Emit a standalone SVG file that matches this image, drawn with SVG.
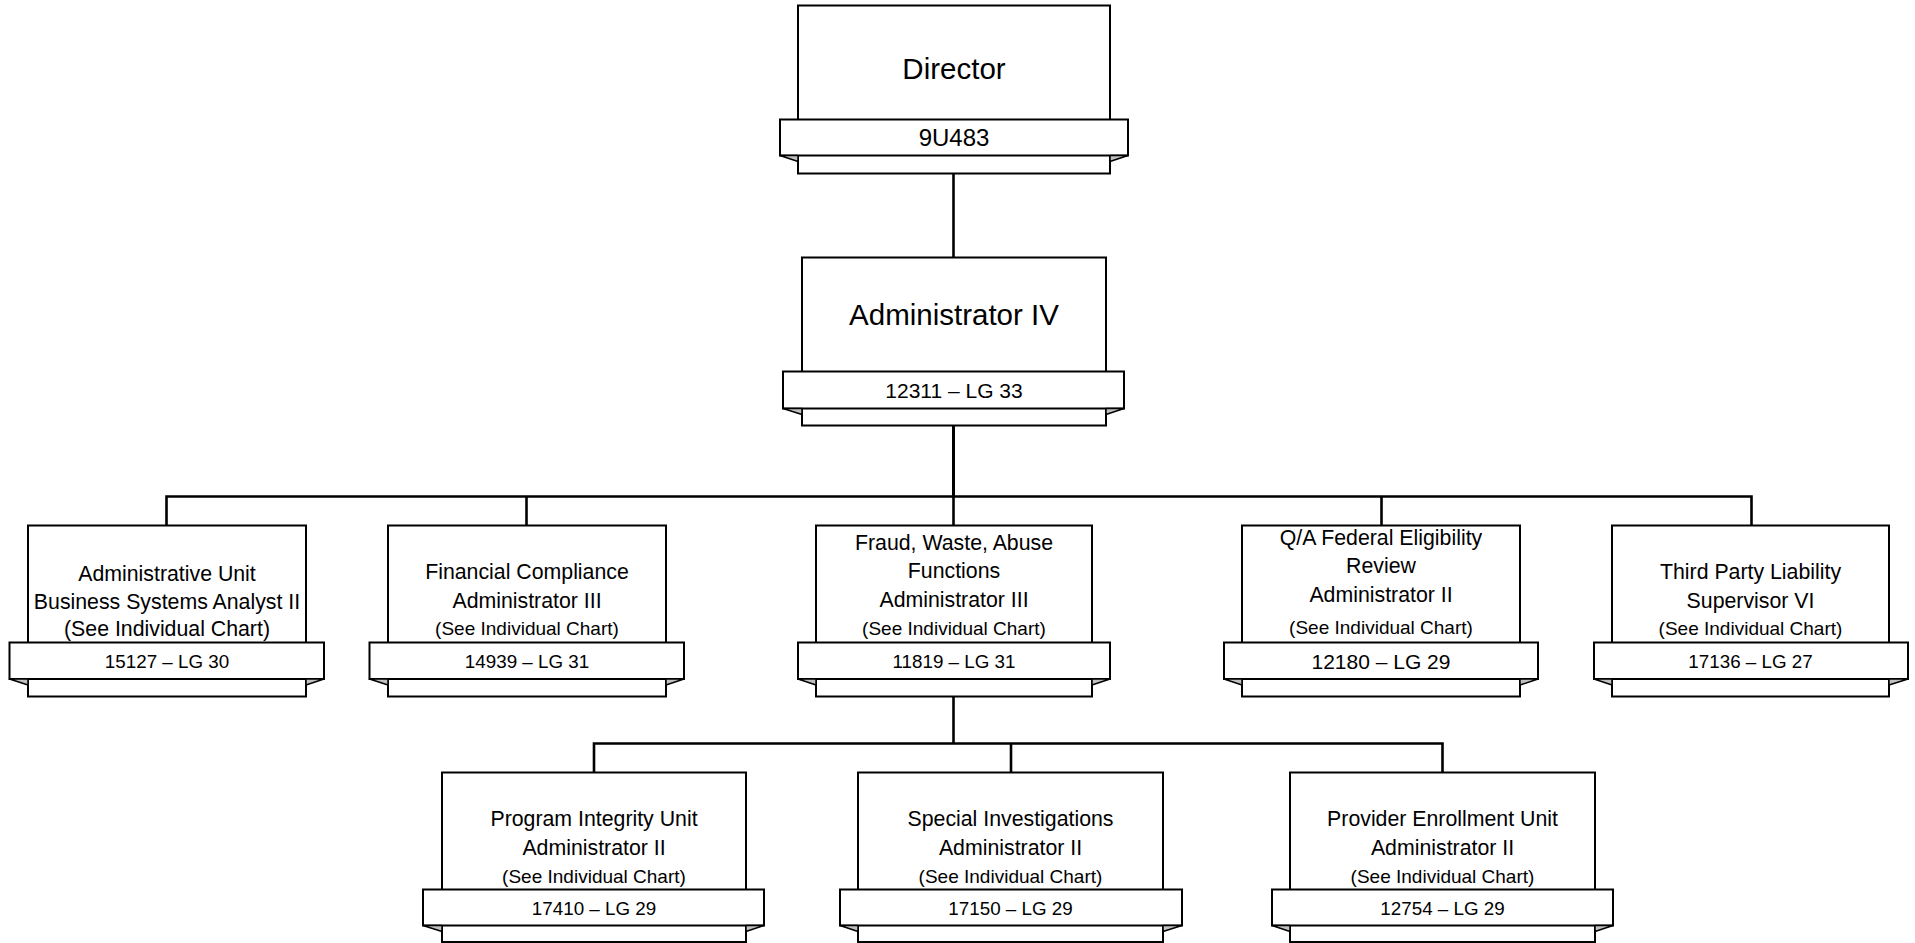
<svg xmlns="http://www.w3.org/2000/svg" width="1915" height="943" viewBox="0 0 1915 943">
<style>
.bx{fill:#fff;stroke:#000;stroke-width:2}
.rb{fill:#fff;stroke:#000;stroke-width:2}
.fd{fill:#c0c0c0;stroke:#000;stroke-width:1.5;stroke-linejoin:round}
.cn{fill:none;stroke:#000;stroke-width:2.6}
text{font-family:"Liberation Sans",Arial,sans-serif;fill:#000;text-anchor:middle}
.big{font-size:29.5px}
.t{font-size:21.3px}
.s{font-size:19px}
.r{font-size:18.8px}
.rl{font-size:21px}
</style>
<rect width="1915" height="943" fill="#fff"/>
<g id="connectors">
<path class="cn" d="M953.5,173.5V257.5"/>
<path class="cn" d="M953.5,425.5V496.5" style="stroke-width:3"/>
<path class="cn" d="M166.5,525.5V496.5H1751.5V525.5"/>
<path class="cn" d="M526.5,496.5V525.5"/>
<path class="cn" d="M953.5,496.5V525.5"/>
<path class="cn" d="M1381.5,496.5V525.5"/>
<path class="cn" d="M953.5,696.5V743.5"/>
<path class="cn" d="M594,772.5V743.5H1442.5V772.5"/>
<path class="cn" d="M1011,743.5V772.5"/>
</g>
<g id="director">
<rect class="bx" x="798" y="5.5" width="312" height="168"/>
<rect class="rb" x="780" y="119.5" width="348" height="36"/>
<path class="fd" d="M780,155.5L798,161.5V155.5Z"/>
<path class="fd" d="M1128,155.5L1110,161.5V155.5Z"/>
<text class="big" x="954" y="78.5">Director</text>
<text x="954" y="146" style="font-size:24px">9U483</text>
</g>
<g id="admin4">
<rect class="bx" x="802" y="257.5" width="304" height="168"/>
<rect class="rb" x="783" y="371.5" width="341" height="37"/>
<path class="fd" d="M783,408.5L802,414.5V408.5Z"/>
<path class="fd" d="M1124,408.5L1106,414.5V408.5Z"/>
<text class="big" x="954" y="324.5">Administrator IV</text>
<text class="rl" x="954" y="398">12311 – LG 33</text>
</g>
<g id="adminunit">
<rect class="bx" x="28" y="525.5" width="278" height="171"/>
<rect class="rb" x="9.5" y="642.5" width="314.5" height="36.5"/>
<path class="fd" d="M9.5,679L28,685V679Z"/>
<path class="fd" d="M324,679L306,685V679Z"/>
<text class="t" x="167" y="580.5">Administrative Unit</text>
<text class="t" x="167" y="609">Business Systems Analyst II</text>
<text class="t" x="167" y="635.5">(See Individual Chart)</text>
<text class="r" x="167" y="668">15127 – LG 30</text>
</g>
<g id="financial">
<rect class="bx" x="388" y="525.5" width="278" height="171"/>
<rect class="rb" x="369.5" y="642.5" width="314.5" height="36.5"/>
<path class="fd" d="M369.5,679L388,685V679Z"/>
<path class="fd" d="M684,679L666,685V679Z"/>
<text class="t" x="527" y="579">Financial Compliance</text>
<text class="t" x="527" y="607.5">Administrator III</text>
<text class="s" x="527" y="635">(See Individual Chart)</text>
<text class="r" x="527" y="668">14939 – LG 31</text>
</g>
<g id="fraud">
<rect class="bx" x="816" y="525.5" width="276" height="171"/>
<rect class="rb" x="798" y="642.5" width="312" height="36.5"/>
<path class="fd" d="M798,679L816,685V679Z"/>
<path class="fd" d="M1110,679L1092,685V679Z"/>
<text class="t" x="954" y="549.5">Fraud, Waste, Abuse</text>
<text class="t" x="954" y="578">Functions</text>
<text class="t" x="954" y="606.5">Administrator III</text>
<text class="s" x="954" y="635">(See Individual Chart)</text>
<text class="r" x="954" y="668">11819 – LG 31</text>
</g>
<g id="qa">
<rect class="bx" x="1242" y="525.5" width="278" height="171"/>
<rect class="rb" x="1224" y="642.5" width="314" height="36.5"/>
<path class="fd" d="M1224,679L1242,685V679Z"/>
<path class="fd" d="M1538,679L1520,685V679Z"/>
<text class="t" x="1381" y="544.5">Q/A Federal Eligibility</text>
<text class="t" x="1381" y="573">Review</text>
<text class="t" x="1381" y="601.5">Administrator II</text>
<text class="s" x="1381" y="634">(See Individual Chart)</text>
<text class="rl" x="1381" y="669">12180 – LG 29</text>
</g>
<g id="tpl">
<rect class="bx" x="1612" y="525.5" width="277" height="171"/>
<rect class="rb" x="1594" y="642.5" width="314" height="36.5"/>
<path class="fd" d="M1594,679L1612,685V679Z"/>
<path class="fd" d="M1908,679L1889,685V679Z"/>
<text class="t" x="1750.5" y="579">Third Party Liability</text>
<text class="t" x="1750.5" y="607.5">Supervisor VI</text>
<text class="s" x="1750.5" y="635">(See Individual Chart)</text>
<text class="r" x="1750.5" y="668">17136 – LG 27</text>
</g>
<g id="programintegrity">
<rect class="bx" x="442" y="772.5" width="304" height="169.5"/>
<rect class="rb" x="423" y="889.5" width="341" height="36"/>
<path class="fd" d="M423,925.5L442,931.5V925.5Z"/>
<path class="fd" d="M764,925.5L746,931.5V925.5Z"/>
<text class="t" x="594" y="826">Program Integrity Unit</text>
<text class="t" x="594" y="854.5">Administrator II</text>
<text class="s" x="594" y="882.5">(See Individual Chart)</text>
<text class="r" x="594" y="915">17410 – LG 29</text>
</g>
<g id="specialinv">
<rect class="bx" x="858" y="772.5" width="305" height="169.5"/>
<rect class="rb" x="840" y="889.5" width="342" height="36"/>
<path class="fd" d="M840,925.5L858,931.5V925.5Z"/>
<path class="fd" d="M1182,925.5L1163,931.5V925.5Z"/>
<text class="t" x="1010.5" y="826">Special Investigations</text>
<text class="t" x="1010.5" y="854.5">Administrator II</text>
<text class="s" x="1010.5" y="882.5">(See Individual Chart)</text>
<text class="r" x="1010.5" y="915">17150 – LG 29</text>
</g>
<g id="providerenroll">
<rect class="bx" x="1290" y="772.5" width="305" height="169.5"/>
<rect class="rb" x="1272" y="889.5" width="341" height="36"/>
<path class="fd" d="M1272,925.5L1290,931.5V925.5Z"/>
<path class="fd" d="M1613,925.5L1595,931.5V925.5Z"/>
<text class="t" x="1442.5" y="826">Provider Enrollment Unit</text>
<text class="t" x="1442.5" y="854.5">Administrator II</text>
<text class="s" x="1442.5" y="882.5">(See Individual Chart)</text>
<text class="r" x="1442.5" y="915">12754 – LG 29</text>
</g>
</svg>
